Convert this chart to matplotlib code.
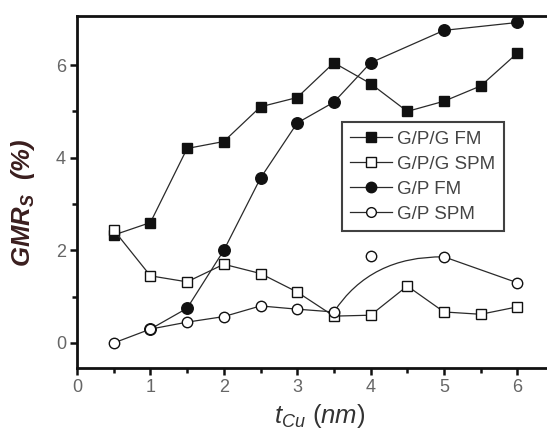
import matplotlib
matplotlib.use("Agg")
import matplotlib.pyplot as plt
from matplotlib.path import Path
from matplotlib.patches import PathPatch
from matplotlib.lines import Line2D

# ---- data ----
x_gpg = [0.5, 1.0, 1.5, 2.0, 2.5, 3.0, 3.5, 4.0, 4.5, 5.0, 5.5, 6.0]
gpg_fm = [2.33, 2.6, 4.2, 4.35, 5.1, 5.3, 6.05, 5.6, 5.0, 5.22, 5.55, 6.26]
gpg_spm = [2.44, 1.45, 1.32, 1.7, 1.5, 1.1, 0.58, 0.6, 1.23, 0.67, 0.62, 0.78]

x_gp_fm = [1.0, 1.5, 2.0, 2.5, 3.0, 3.5, 4.0, 5.0, 6.0]
gp_fm = [0.3, 0.75, 2.0, 3.56, 4.75, 5.2, 6.05, 6.75, 6.92]

x_gp_spm = [0.5, 1.0, 1.5, 2.0, 2.5, 3.0, 3.5, 4.0, 5.0, 6.0]
gp_spm = [0.0, 0.3, 0.45, 0.57, 0.8, 0.73, 0.67, 1.88, 1.86, 1.3]

labels = ["G/P/G FM", "G/P/G SPM", "G/P FM", "G/P SPM"]
xticks = [0, 1, 2, 3, 4, 5, 6]
yticks = [0, 2, 4, 6]

# ---- figure ----
W, H = 547, 432
plt.rcParams['font.family'] = ['Liberation Sans', 'DejaVu Sans']
plt.rcParams['mathtext.fontset'] = 'custom'
plt.rcParams['mathtext.rm'] = 'Liberation Sans'
plt.rcParams['mathtext.it'] = 'Liberation Sans:italic'
plt.rcParams['mathtext.bf'] = 'Liberation Sans:bold:italic'
fig = plt.figure(figsize=(W / 100, H / 100), dpi=100)

xlo, xhi = 0.0, 6.6
ylo, yhi = -0.54, 7.06
left = 77 / W
right = (77 + 6.6 * 73.4) / W
bottom = 1 - 368 / H
top = 1 - 16 / H
ax = fig.add_axes([left, bottom, right - left, top - bottom])
ax.set_xlim(xlo, xhi)
ax.set_ylim(ylo, yhi)

lc = '#2a2a2a'
lw = 0.9

ax.plot(x_gpg, gpg_fm, '-', color=lc, lw=lw, marker='s', ms=7,
        mfc='#111111', mec='#111111', zorder=3)
ax.plot(x_gpg, gpg_spm, '-', color=lc, lw=lw, marker='s', ms=7,
        mfc='white', mec='#111111', mew=1.0, zorder=3)
ax.plot(x_gp_fm, gp_fm, '-', color=lc, lw=lw, marker='o', ms=8.3,
        mfc='#111111', mec='#111111', zorder=3)

# G/P SPM: straight segments, then a smooth (quadratic) arc past the 4 nm point
i4 = x_gp_spm.index(4.0)
verts = [(x_gp_spm[0], gp_spm[0])]
codes = [Path.MOVETO]
for k in range(1, i4):
    verts.append((x_gp_spm[k], gp_spm[k]))
    codes.append(Path.LINETO)
verts.append((x_gp_spm[i4], gp_spm[i4]))
codes.append(Path.CURVE3)
verts.append((x_gp_spm[i4 + 1], gp_spm[i4 + 1]))
codes.append(Path.CURVE3)
for k in range(i4 + 2, len(x_gp_spm)):
    verts.append((x_gp_spm[k], gp_spm[k]))
    codes.append(Path.LINETO)
ax.add_patch(PathPatch(Path(verts, codes), fill=False, edgecolor=lc, lw=lw, zorder=3))
ax.plot(x_gp_spm, gp_spm, linestyle='none', marker='o', ms=7.5,
        mfc='white', mec='#111111', mew=1.0, zorder=4)

# ---- axes styling ----
for s in ['left', 'bottom', 'top']:
    ax.spines[s].set_linewidth(2.0)
    ax.spines[s].set_color('#111111')
ax.spines['right'].set_visible(False)

ax.set_xticks(xticks)
ax.set_yticks(yticks)
ax.set_xticks([v + 0.5 for v in xticks[:-1]], minor=True)
ax.set_yticks([v + 1 for v in yticks[:-1]], minor=True)
ax.tick_params(which='major', direction='out', length=5, width=1.8, color='#111111',
               labelsize=13, labelcolor='#666666', pad=3)
ax.tick_params(which='minor', direction='out', length=3.5, width=1.8, color='#111111')
ax.tick_params(top=False, right=False)

ax.set_ylabel(r'$\mathbf{GMR_S\ \ (\%)}$', fontsize=18.5, color='#3a1e1e')
ax.yaxis.set_label_coords(-0.083, 0.47)
ax.set_xlabel(r'$t_{Cu}\ (nm)$', fontsize=18.5, color='#333333', labelpad=4)

# ---- legend ----
handles = [
    Line2D([], [], color=lc, lw=lw, marker='s', ms=7, mfc='#111111', mec='#111111'),
    Line2D([], [], color=lc, lw=lw, marker='s', ms=7, mfc='white', mec='#111111'),
    Line2D([], [], color=lc, lw=lw, marker='o', ms=7.5, mfc='#111111', mec='#111111'),
    Line2D([], [], color=lc, lw=lw, marker='o', ms=7, mfc='white', mec='#111111'),
]
leg = fig.legend(handles, labels, loc='upper left',
                 bbox_to_anchor=(342 / W, 1 - 122 / H), fontsize=13.5,
                 frameon=True, fancybox=False, edgecolor='#111111',
                 handlelength=2.2, handletextpad=0.3, labelspacing=0.42,
                 borderpad=0.45, borderaxespad=0)
leg.get_frame().set_linewidth(1.5)
for t in leg.get_texts():
    t.set_color('#444444')

fig.savefig('out.png', dpi=100)
